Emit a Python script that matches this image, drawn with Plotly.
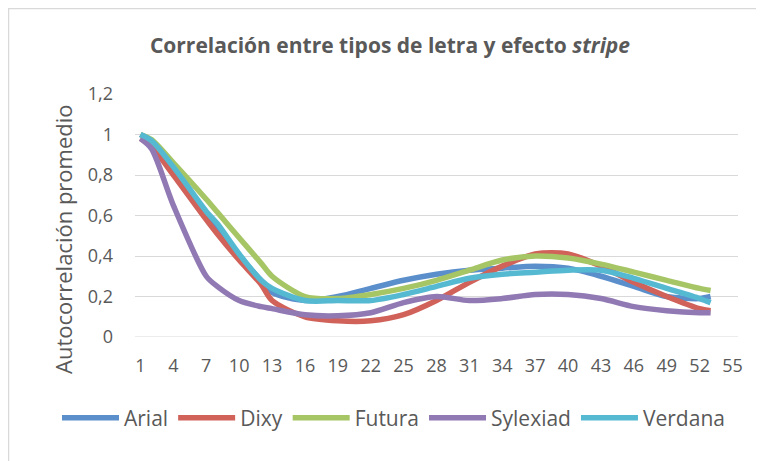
import plotly.graph_objects as go

# Retardo (categoría del eje X)
lags = [1, 2, 4, 7, 8, 10, 12, 13, 16, 19, 22, 25, 28, 31, 34, 37, 40, 43, 46, 49, 52, 53]

arial = [1.0, 0.96, 0.84, 0.61, 0.54, 0.40, 0.28, 0.22, 0.18, 0.20, 0.24, 0.28, 0.31, 0.33, 0.34, 0.35, 0.34, 0.30, 0.25, 0.20, 0.19, 0.20]
dixy = [0.98, 0.94, 0.80, 0.58, 0.51, 0.38, 0.26, 0.18, 0.10, 0.08, 0.08, 0.11, 0.18, 0.27, 0.35, 0.41, 0.41, 0.35, 0.27, 0.20, 0.14, 0.13]
futura = [1.0, 0.975, 0.86, 0.68, 0.617, 0.49, 0.365, 0.30, 0.20, 0.19, 0.21, 0.24, 0.28, 0.33, 0.38, 0.40, 0.39, 0.36, 0.32, 0.28, 0.24, 0.23]
sylexiad = [0.98, 0.93, 0.65, 0.30, 0.25, 0.18, 0.15, 0.14, 0.11, 0.105, 0.12, 0.17, 0.20, 0.18, 0.19, 0.21, 0.21, 0.19, 0.15, 0.13, 0.12, 0.12]
verdana = [1.0, 0.97, 0.84, 0.62, 0.56, 0.41, 0.28, 0.24, 0.18, 0.18, 0.18, 0.21, 0.25, 0.29, 0.31, 0.32, 0.33, 0.33, 0.29, 0.24, 0.19, 0.17]

series = [
    ("Arial", arial, "#5B8FCB"),
    ("Dixy", dixy, "#D0625A"),
    ("Futura", futura, "#A6C565"),
    ("Sylexiad", sylexiad, "#9179B4"),
    ("Verdana", verdana, "#55B9D2"),
]

x_ticks = list(range(1, 56, 3))
y_ticks = [0, 0.2, 0.4, 0.6, 0.8, 1, 1.2]

FONT = "Open Sans"
GREY = "#595959"

fig = go.Figure()
for name, vals, color in series:
    fig.add_trace(go.Scatter(
        x=lags, y=vals, name=name, mode="lines",
        line=dict(color=color, width=5.5, shape="spline", smoothing=0.8),
    ))

# la página deja 8 px de margen en el body
W, H = 756, 453
m = dict(l=127, r=26, t=86, b=124)
pw = W - m["l"] - m["r"]
ph = H - m["t"] - m["b"]

fig.update_layout(
    width=W, height=H,
    margin=m,
    paper_bgcolor="white",
    plot_bgcolor="white",
    separators=", ",
    font=dict(family=FONT, color=GREY),
    title=dict(
        text="<b>Correlación entre tipos de letra y efecto <i>stripe</i></b>",
        x=382 / W, xanchor="center", xref="container",
        y=1 - 38 / H, yref="container", yanchor="middle",
        font=dict(size=21, color=GREY),
    ),
    xaxis=dict(
        range=[0.5, 55.5],
        tickmode="array", tickvals=x_ticks,
        ticktext=[str(v) for v in x_ticks],
        showgrid=False, zeroline=False, showline=False,
        ticks="", ticklabelstandoff=16,
        tickfont=dict(size=18, color=GREY),
    ),
    yaxis=dict(
        range=[0, 1.2],
        tickmode="array", tickvals=y_ticks,
        showgrid=True, gridcolor="#D9D9D9", gridwidth=1,
        zeroline=False, showline=False,
        ticks="", ticklabelstandoff=21,
        tickfont=dict(size=18, color=GREY),
    ),
    legend=dict(
        orientation="h",
        x=(49 - m["l"]) / pw, xanchor="left",
        y=-81 / ph, yanchor="middle",
        font=dict(size=21, color=GREY),
        itemwidth=57,
        tracegroupgap=0,
    ),
    showlegend=True,
)

# título del eje Y
fig.add_annotation(
    text="Autocorrelación promedio", textangle=-90,
    xref="paper", yref="paper",
    x=(55 - m["l"]) / pw, y=(ph + m["t"] - 231) / ph,
    xanchor="center", yanchor="middle", showarrow=False,
    font=dict(size=22, color=GREY),
)

# Línea en y=0
fig.add_shape(type="line", xref="paper", yref="y", x0=0, x1=1, y0=0, y1=0,
              line=dict(color="#D9D9D9", width=1), layer="below")

# Borde del gráfico
fig.add_shape(type="rect", xref="paper", yref="paper",
              x0=(0.5 - m["l"]) / pw, x1=(W + 5 - m["l"]) / pw,
              y0=-(H + 5 - m["t"] - ph) / ph, y1=(m["t"] - 0.5) / ph + 1,
              line=dict(color="#D9D9D9", width=1.5), fillcolor="rgba(0,0,0,0)")

fig.write_html("out.html")
